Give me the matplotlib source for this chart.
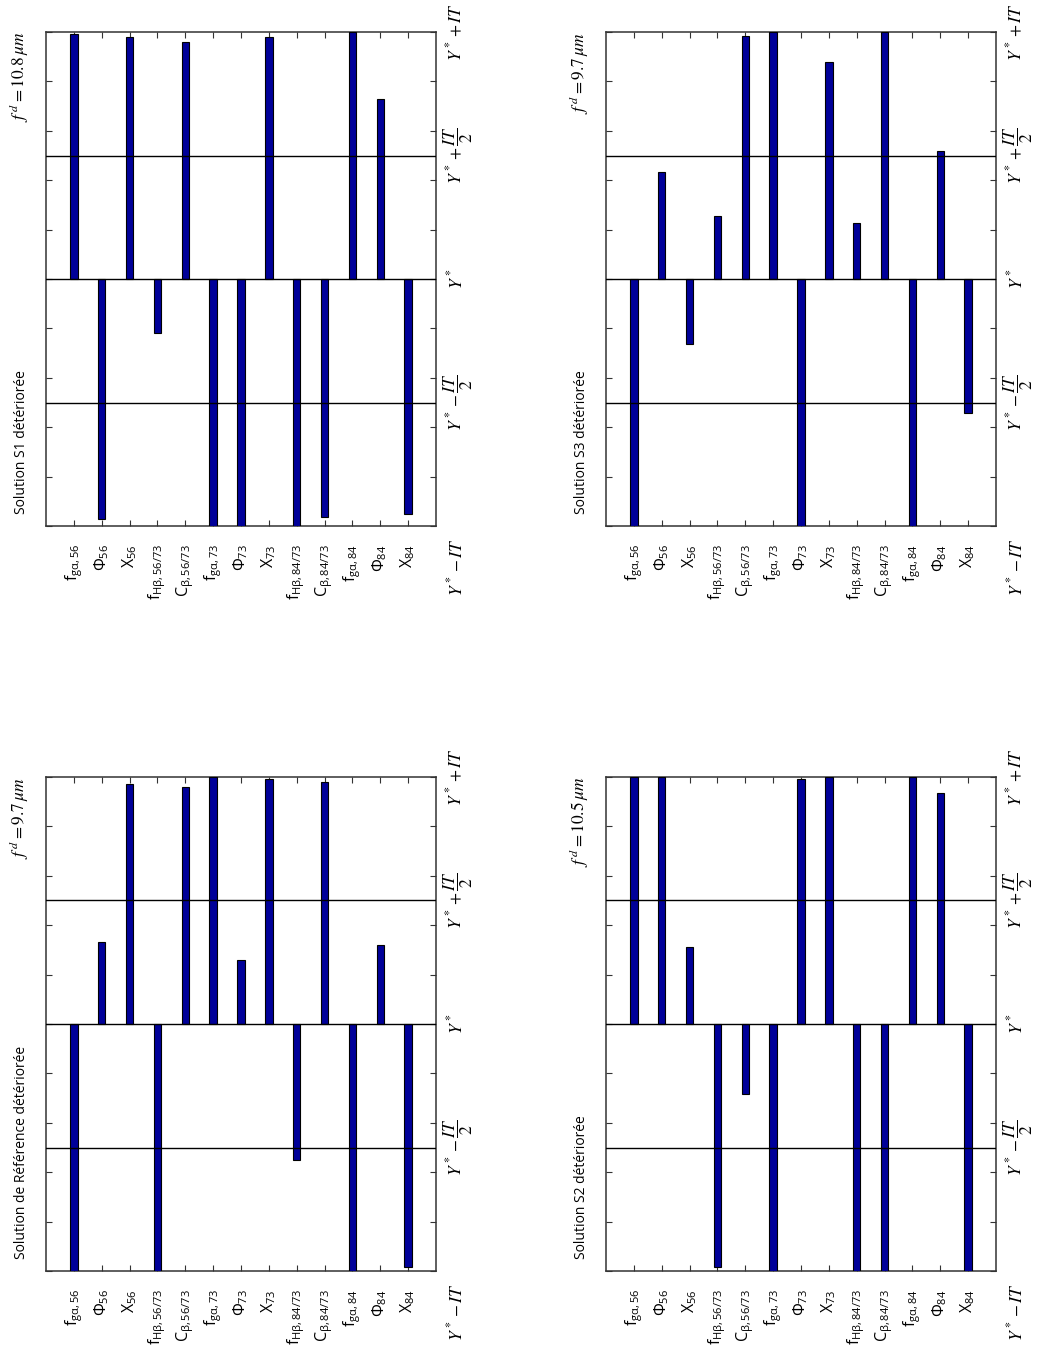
import numpy as np
import matplotlib
matplotlib.use('Agg')
from matplotlib import pyplot as plt

plt.rcParams['font.family'] = ['Open Sans', 'DejaVu Sans']
plt.rcParams['mathtext.fontset'] = 'stix'

# parameter labels (bottom, left to right)
categories = [
    'f$_{\\mathregular{gα,56}}$', 'Φ$_{\\mathregular{56}}$', 'X$_{\\mathregular{56}}$',
    'f$_{\\mathregular{Hβ,56/73}}$', 'C$_{\\mathregular{β,56/73}}$', 'f$_{\\mathregular{gα,73}}$',
    'Φ$_{\\mathregular{73}}$', 'X$_{\\mathregular{73}}$', 'f$_{\\mathregular{Hβ,84/73}}$',
    'C$_{\\mathregular{β,84/73}}$', 'f$_{\\mathregular{gα,84}}$', 'Φ$_{\\mathregular{84}}$',
    'X$_{\\mathregular{84}}$',
]

# deviations in IT units (Y* = 0, Y* +/- IT = +/-1)
ref_values = [-1, 0.33, 0.97, -1, 0.96, 1, 0.26, 0.99, -0.55, 0.98, -1, 0.32, -0.985]
s1_values = [0.99, -0.97, 0.98, -0.22, 0.96, -1, -1, 0.98, -1, -0.965, 1, 0.73, -0.953]
s2_values = [1, 1, 0.313, -0.985, -0.285, -1, 0.99, 1, -1, -1, 1, 0.937, -1]
s3_values = [-1, 0.433, -0.263, 0.254, 0.985, 1, -1, 0.88, 0.226, 1, -1, 0.517, -0.542]

titles = ['Solution S1 détériorée', 'Solution S3 détériorée',
          'Solution de Référence détériorée', 'Solution S2 détériorée']
fd_labels = ['10.8', '9.7', '9.7', '10.5']

value_ticks = [-1, -0.5, 0, 0.5, 1]
value_labels = [r'$Y^*-IT$', r'$Y^*-\dfrac{IT}{2}$', r'$Y^*$',
                r'$Y^*+\dfrac{IT}{2}$', r'$Y^*+IT$']


def draw_panel(ax, values, title, fd):
    x = np.arange(1, len(categories) + 1)
    ax.bar(x, values, width=0.27, color='#000099', edgecolor='black', linewidth=0.8, zorder=3)
    for h in (-0.5, 0, 0.5):
        ax.axhline(h, color='black', lw=1, zorder=4)
    ax.set_xlim(0, len(categories) + 1)
    ax.set_ylim(-1, 1)
    ax.set_xticks(x)
    ax.set_xticklabels(categories, rotation=90, fontsize=11.5)
    ax.set_yticks(np.linspace(-1, 1, 11))
    ax.set_yticklabels([])
    ax.tick_params(direction='in', top=True, right=True, length=4, width=0.8, color='#333333')
    ax.tick_params(axis='x', pad=13)
    for s in ax.spines.values():
        s.set_color('#333333')
        s.set_linewidth(1.1)

    tr = ax.get_yaxis_transform()
    for v, lab in zip(value_ticks, value_labels):
        if v == -1:
            ax.text(1.067, -1.05, lab, transform=tr, rotation=90, rotation_mode='anchor',
                    ha='right', va='baseline', fontsize=12.5, clip_on=False)
        else:
            ax.text(1.067, v, lab, transform=tr, rotation=90, rotation_mode='anchor',
                    ha='center', va='baseline', fontsize=12.5, clip_on=False)

    ax.text(-0.054, 0.024, title, transform=ax.transAxes, rotation=90, rotation_mode='anchor',
            ha='left', va='baseline', fontsize=10)
    ax.text(-0.054, 1.0, r'$f^{\,d}=%s\,\mu m$' % fd, transform=ax.transAxes, rotation=90,
            rotation_mode='anchor', ha='right', va='baseline', fontsize=12.5)


fig = plt.figure(figsize=(10.48, 13.49), dpi=100)
w = 390 / 1048
h = 494 / 1349
positions = [
    (46 / 1048, 1 - 526 / 1349),
    (606 / 1048, 1 - 526 / 1349),
    (46 / 1048, 1 - 1271 / 1349),
    (606 / 1048, 1 - 1271 / 1349),
]
all_values = [s1_values, s3_values, ref_values, s2_values]

for (x0, y0), vals, t, fd in zip(positions, all_values, titles, fd_labels):
    ax = fig.add_axes([x0, y0, w, h])
    draw_panel(ax, vals, t, fd)

fig.savefig('out.png', dpi=100)
